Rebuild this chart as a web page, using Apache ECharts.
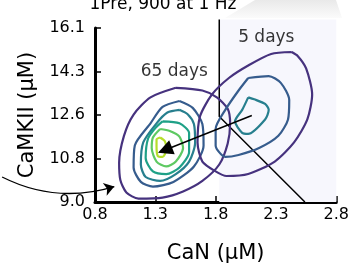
<!DOCTYPE html>
<html>
<head>
<meta charset="utf-8">
<script src="https://cdn.jsdelivr.net/npm/echarts@6/dist/echarts.min.js"></script>
<style>
  html, body { margin: 0; padding: 0; background: #fff; }
  #main { width: 352px; height: 269px; }
</style>
</head>
<body>
<div id="main"></div>
<script type="text/javascript">
// tick positions and labels
var xTicks = [0.8, 1.3, 1.8, 2.3, 2.8];
var yTicks = [9.0, 10.775, 12.55, 14.325, 16.1];
var yLabels = ['9.0', '10.8', '12.6', '14.3', '16.1'];

// 65 days contours (outer -> inner)
var late1 = [[1.47,13.66],[1.69,13.55],[1.81,13.27],[1.90,12.80],[1.92,12.21],[1.90,11.39],[1.83,10.53],[1.69,9.86],[1.53,9.43],[1.36,9.18],[1.16,9.14],[1.06,9.39],[1.01,9.90],[1.00,10.60],[1.04,11.70],[1.12,12.57],[1.26,13.27],[1.47,13.66]];
var late2 = [[1.50,13.12],[1.61,12.84],[1.69,12.18],[1.70,11.31],[1.62,10.45],[1.45,9.82],[1.28,9.63],[1.18,9.82],[1.12,10.41],[1.13,11.31],[1.26,12.21],[1.36,12.88],[1.50,13.12]];
var late3 = [[1.50,12.76],[1.57,12.57],[1.62,12.18],[1.63,11.43],[1.58,10.65],[1.47,10.14],[1.34,9.86],[1.22,10.02],[1.18,10.53],[1.20,11.43],[1.31,12.21],[1.40,12.65],[1.50,12.76]];
var late4 = [[1.36,12.29],[1.50,12.21],[1.58,11.82],[1.58,11.04],[1.50,10.41],[1.39,10.14],[1.28,10.25],[1.22,10.80],[1.24,11.59],[1.30,12.02],[1.36,12.29]];
var late5 = [[1.34,11.98],[1.42,11.90],[1.50,11.67],[1.53,11.20],[1.47,10.65],[1.39,10.45],[1.31,10.65],[1.27,11.20],[1.28,11.63],[1.34,11.98]];
var late6 = [[1.34,11.63],[1.38,11.47],[1.39,11.12],[1.36,10.84],[1.32,10.88],[1.31,11.27],[1.31,11.55],[1.34,11.63]];

// 5 days contours
var early1 = [[2.43,15.12],[2.26,15.04],[2.07,14.57],[1.91,14.06],[1.77,13.39],[1.67,12.49],[1.65,11.43],[1.69,10.65],[1.80,10.25],[1.89,10.06],[2.07,10.14],[2.29,10.65],[2.45,11.43],[2.56,12.37],[2.60,13.39],[2.55,14.45],[2.48,14.96],[2.43,15.12]];
var early2 = [[2.07,14.06],[2.24,14.14],[2.34,13.86],[2.41,13.16],[2.40,12.37],[2.32,11.70],[2.16,11.20],[1.99,10.92],[1.88,10.84],[1.80,11.31],[1.80,11.98],[1.88,12.76],[1.99,13.55],[2.07,14.06]];
var early3 = [[2.07,13.27],[2.12,13.19],[2.21,13.00],[2.24,12.76],[2.21,12.37],[2.07,11.78],[2.02,11.82],[1.96,12.29],[2.02,12.76],[2.07,13.27]];

var lateColors = ['#46327e', '#365c8d', '#277f8e', '#1fa187', '#5ec962', '#b5de2b'];
var earlyColors = ['#46327e', '#365c8d', '#277f8e'];

// annotations
var boundary = [[1.83, 16.45], [1.83, 12.49], [2.54, 9.0]];
var shadeTop = [[1.83, 16.45], [2.8, 16.45]];
var shiftArrow = [[2.10, 12.53], [1.38, 11.12]];
var curveArrow = [[0.03, 10.02], [0.96, 9.63]];
var labels = [
    { name: '65 days', value: [1.457, 14.33] },
    { name: '5 days', value: [2.22, 15.71] }
];

var font = 'DejaVu Sans';

function contour(data, color) {
    return {
        type: 'line',
        data: data,
        showSymbol: false,
        smooth: 0.25,
        silent: true,
        lineStyle: { color: color, width: 2.2 },
        z: 3
    };
}

var series = [];
// shaded "5 days" region, reaches a bit above the axis top
series.push({
    type: 'line',
    data: shadeTop,
    clip: false,
    silent: true,
    showSymbol: false,
    lineStyle: { width: 0 },
    areaStyle: { color: '#f7f7fd', origin: 'start', opacity: 1 },
    z: 1
});
// boundary lines
series.push({
    type: 'lines',
    coordinateSystem: 'cartesian2d',
    polyline: true,
    clip: false,
    silent: true,
    data: [{ coords: boundary }],
    lineStyle: { color: '#000', width: 1.5, opacity: 1 },
    z: 2
});
[late1, late2, late3, late4, late5, late6].forEach(function (d, i) {
    series.push(contour(d, lateColors[i]));
});
[early1, early2, early3].forEach(function (d, i) {
    series.push(contour(d, earlyColors[i]));
});
// arrows
series.push({
    type: 'lines',
    coordinateSystem: 'cartesian2d',
    clip: false,
    silent: true,
    symbol: ['none', 'triangle'],
    symbolSize: [13, 15],
    data: [{ coords: shiftArrow }],
    lineStyle: { color: '#000', width: 1.5, opacity: 1 },
    z: 5
});
series.push({
    type: 'lines',
    coordinateSystem: 'cartesian2d',
    clip: false,
    silent: true,
    symbol: ['none', 'arrow'],
    symbolSize: [7, 10],
    data: [{ coords: curveArrow }],
    lineStyle: { color: '#000', width: 1.3, opacity: 1, curveness: -0.2 },
    z: 5
});
// text labels
series.push({
    type: 'scatter',
    data: labels,
    symbolSize: 0,
    silent: true,
    label: {
        show: true,
        position: 'inside',
        formatter: '{b}',
        color: '#000',
        fontSize: 17,
        fontFamily: font
    },
    z: 6
});

var myChart = echarts.init(document.getElementById('main'));
var option = {
    animation: false,
    backgroundColor: '#fff',
    title: {
        text: '1Pre, 900 at 1 Hz',
        left: 158,
        top: -9,
        textAlign: 'center',
        textStyle: { fontFamily: font, fontSize: 17, fontWeight: 'normal', color: '#000' }
    },
    graphic: [{
        type: 'polygon',
        z: -1,
        shape: { points: [[225, 18], [255, 0], [336, 0], [342, 18]] },
        style: {
            fill: new echarts.graphic.LinearGradient(0, 0, 0, 1, [
                { offset: 0, color: '#e9e9e9' },
                { offset: 1, color: '#fbfbfb' }
            ])
        }
    }],
    grid: { left: 95, right: 10, top: 28, bottom: 60, containLabel: false },
    xAxis: {
        type: 'value',
        min: 0.8,
        max: 2.8,
        name: 'CaN (μM)',
        nameLocation: 'middle',
        nameGap: 41,
        nameTextStyle: { fontFamily: font, fontSize: 21, color: '#000' },
        splitLine: { show: false },
        axisLine: { onZero: false, lineStyle: { color: '#000', width: 3 } },
        axisTick: { inside: true, length: 6, lineStyle: { color: '#000', width: 1.5 }, customValues: xTicks },
        axisLabel: {
            customValues: xTicks,
            margin: 5,
            fontFamily: font, fontSize: 16, color: '#000',
            formatter: function (v) { return v.toFixed(1); }
        }
    },
    yAxis: {
        type: 'value',
        min: 9.0,
        max: 16.1,
        name: 'CaMKII (μM)',
        nameLocation: 'middle',
        nameGap: 52,
        nameTextStyle: { fontFamily: font, fontSize: 21, color: '#000' },
        splitLine: { show: false },
        axisLine: { onZero: false, lineStyle: { color: '#000', width: 3 } },
        axisTick: { inside: true, length: 6, lineStyle: { color: '#000', width: 1.5 }, customValues: yTicks },
        axisLabel: {
            customValues: yTicks,
            margin: 10,
            fontFamily: font, fontSize: 16, color: '#000',
            formatter: function (v) {
                for (var i = 0; i < yTicks.length; i++) {
                    if (Math.abs(yTicks[i] - v) < 1e-6) return yLabels[i];
                }
                return v.toFixed(1);
            }
        }
    },
    series: series
};
myChart.setOption(option);
</script>
</body>
</html>
